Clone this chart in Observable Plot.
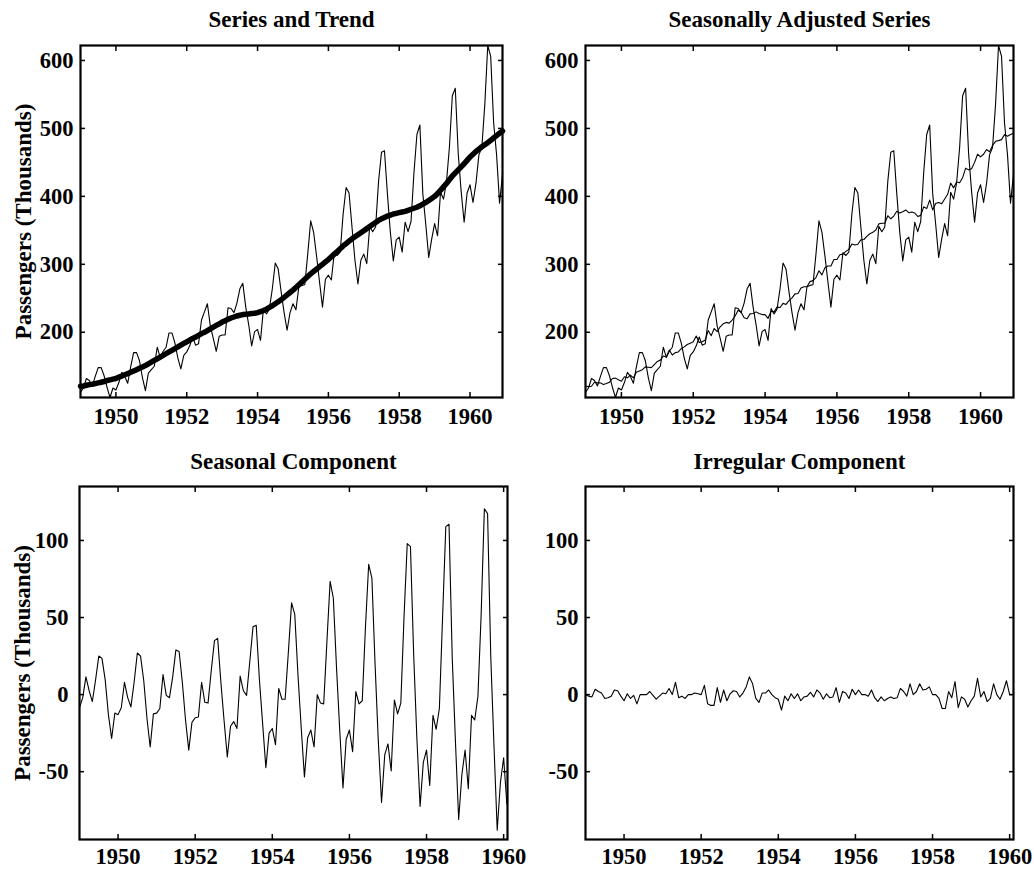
<!DOCTYPE html>
<html><head><meta charset="utf-8">
<script src="https://cdn.jsdelivr.net/npm/d3@7"></script>
<script src="https://cdn.jsdelivr.net/npm/@observablehq/plot@0.6"></script>
<style>
html,body{margin:0;padding:0;background:#fff;}
#wrap{position:relative;width:1034px;height:876px;overflow:hidden;background:#fff;}
.panel{position:absolute;}
.panel svg{overflow:visible;display:block;}
</style></head><body><div id="wrap"></div>
<script>
const startYear = 1949;
const passengers = [
112,118,132,129,121,135,148,148,136,119,104,118,
115,126,141,135,125,149,170,170,158,133,114,140,
145,150,178,163,172,178,199,199,184,162,146,166,
171,180,193,181,183,218,230,242,209,191,172,194,
196,196,236,235,229,243,264,272,237,211,180,201,
204,188,235,227,234,264,302,293,259,229,203,229,
242,233,267,269,270,315,364,347,312,274,237,278,
284,277,317,313,318,374,413,405,355,306,271,306,
315,301,356,348,355,422,465,467,404,347,305,336,
340,318,362,348,363,435,491,505,404,359,310,337,
360,342,406,396,420,472,548,559,463,407,362,405,
417,391,419,461,472,535,622,606,508,461,390,432];
const trend = [
120.5,121,122,123,123.5,124.5,125.5,126.5,127.5,129,130,131,
132,134,135.5,137.5,139,141,143,145,147,149,151,153.5,
156,158.5,161,163.5,166,168.5,171,173.5,176,178.5,181,183.5,
186,188.5,191,193,195.5,198,200,202.5,205,207.5,210,212.5,
215,217,219,221,222.5,224,225,226,226.5,227,227.5,228,
229,230.5,232,234,236.5,239,242,245,248,251.5,255,258.5,
262,266,270,274,278,282,286,289.5,293,296.5,300,303.5,
307,311,315,319,323,327,330.5,334,337.5,340.5,343.5,346.5,
349.5,352.5,355.5,358.5,361.5,364.5,367,369,371,372.5,374,375,
376,377,378,379.5,381,382.5,384,386,388.5,391,394,397,
400,404,409,414,419,424.5,430,434.5,439,443.5,448,453,
458,462,466,469.5,473,476,479,482.5,486,489.5,493,496];
const adjusted = [
120.5,120,120.5,126.5,125.5,125.5,123,124.5,126.5,132,132.5,130,
128,134.5,133,137,133,141,143,145,149,148.5,148,152.5,
157,159,165,163.5,174,166.5,170,171,176,178.5,182,184,
186,194.5,185,186,188.5,202.5,195,205.5,201,208,212.5,214.5,
213.5,218,224,232.5,229.5,221.5,220,227,227.5,230,227.5,226,
226,220.5,231,230,237,236.5,242.5,241,246.5,250.5,256.5,257,
265,267,267,274.5,276,280.5,290.5,284.5,295,297.5,297.5,307,
307,314,315,319,322,330,328.5,329.5,336,336.5,341,345,
347,350.5,359.5,360.5,360.5,371.5,367,371,378,375.5,377.5,380,
376,377,375.5,370.5,372,384.5,382,394.5,380,389.5,391,389,
396,403,419.5,412.5,421,420,427.5,441.5,439,440.5,450,462,
458,462,469,465.5,475,481,482,483.5,491,488.5,491,493];
const seasonal = [
-8.5,-2,11.5,2.5,-4.5,9.5,25,23.5,9.5,-13,-28.5,-12,
-13,-8.5,8,-2,-8,8,27,25,9,-15.5,-34,-12.5,
-12,-9,13,-0.5,-2,11.5,29,28,8,-16.5,-36,-18,
-15,-14.5,8,-5,-5.5,15.5,35,36.5,8,-17,-40.5,-20.5,
-17.5,-22,12,2.5,-0.5,21.5,44,45,9.5,-19,-47.5,-25,
-22,-32.5,4,-3,-3,27.5,59.5,52,12.5,-21.5,-53.5,-28,
-23,-34,0,-5.5,-6,34.5,73.5,62.5,17,-23.5,-60.5,-29,
-23,-37,2,-6,-4,44,84.5,75.5,19,-30.5,-70,-39,
-32,-49.5,-3.5,-12.5,-5.5,50.5,98,96,26,-28.5,-72.5,-44,
-36,-59,-13.5,-22.5,-9,50.5,109,110.5,24,-30.5,-81,-52,
-36,-61,-13.5,-16.5,-1,52,120.5,117.5,24,-33.5,-88,-57,
-41,-71,-50,-4.5,-3,54,140,122.5,17,-27.5,-101,-61];
const irregular = [
0,-1,-1.5,3.5,2,1,-2.5,-2,-1,3,2.5,-1,
-4,0.5,-2.5,-0.5,-6,0,0,0,2,-0.5,-3,-1,
1,0.5,4,0,8,-2,-1,-2.5,0,0,1,0.5,
0,6,-6,-7,-7,4.5,-5,3,-4,0.5,2.5,2,
-1.5,1,5,11.5,7,-2.5,-5,1,1,3,0,-2,
-3,-10,-1,-4,0.5,-2.5,0.5,-4,-1.5,-1,1.5,-1.5,
3,1,-3,0.5,-2,-1.5,4.5,-5,2,1,-2.5,3.5,
0,3,0,0,-1,3,-2,-4.5,-1.5,-4,-2.5,-1.5,
-2.5,-2,4,2,-1,7,0,2,7,3,3.5,5,
0,0,-2.5,-9,-9,2,-2,8.5,-8.5,-1.5,-3,-8,
-4,-1,10.5,-1.5,2,-4.5,-2.5,7,0,-3,2,9,
0,0,3,-4,2,5,3,1,5,-1,-2,-3];

const xTicks = [1950,1952,1954,1956,1958,1960];
const topYTicks = [200,300,400,500,600];
const bottomYTicks = [-50,0,50,100];
const titles = ["Series and Trend","Seasonally Adjusted Series","Seasonal Component","Irregular Component"];
const yLabel = "Passengers (Thousands)";
const topYDomain = [104, 622];
const bottomYDomain = [-94, 135];
const topXDomain = [1949, 1960 + 11/12];
const bottomXDomain = [1949, 1960.1];

const rows = passengers.map((v, i) => ({
  t: startYear + i / 12,
  passengers: v,
  trend: trend[i],
  adjusted: adjusted[i],
  seasonal: seasonal[i],
  irregular: irregular[i]
}));

const font = "'Liberation Serif', 'Times New Roman', Times, serif";
const fmt = d => String(d);
const tickFont = 22.5;
const labelFont = 23;

function panel(cfg) {
  const plot = Plot.plot({
    width: cfg.width, height: cfg.height,
    marginTop: cfg.m[0], marginRight: cfg.m[1], marginBottom: cfg.m[2], marginLeft: cfg.m[3],
    style: {fontFamily: font, fontSize: "22.5px", fontWeight: "bold", background: "none", color: "black", overflow: "visible"},
    x: {domain: cfg.xDomain},
    y: {domain: cfg.yDomain},
    marks: [
      ...cfg.marks,
      Plot.axisX(xTicks, {anchor: "bottom", tickSize: -5, tickPadding: cfg.xPad, tickFormat: fmt, label: null, strokeWidth: 1.5, fontSize: tickFont, fontWeight: "bold"}),
      Plot.axisX(xTicks, {anchor: "top", tickSize: -5, tickFormat: () => "", label: null, strokeWidth: 1.5}),
      Plot.axisY(cfg.yTicks, {anchor: "left", tickSize: -5, tickPadding: cfg.yPad, tickFormat: fmt, label: null, strokeWidth: 1.5, fontSize: tickFont, fontWeight: "bold"}),
      Plot.axisY(cfg.yTicks, {anchor: "right", tickSize: -5, tickFormat: () => "", label: null, strokeWidth: 1.5}),
      Plot.frame({stroke: "black", strokeWidth: 2.2}),
      Plot.text([cfg.title], {text: d => d, frameAnchor: "top", textAnchor: "middle", lineAnchor: "middle", dy: cfg.titleDy, fontSize: labelFont, fontWeight: "bold", fill: "black"}),
      cfg.ylabel ? Plot.text([cfg.ylabel], {text: d => d, frameAnchor: "left", textAnchor: "middle", lineAnchor: "middle", dx: -57, rotate: -90, fontSize: labelFont, fontWeight: "bold", fill: "black"}) : null
    ]
  });
  const div = document.createElement("div");
  div.className = "panel";
  div.style.left = cfg.left + "px";
  div.style.top = cfg.top + "px";
  div.style.zIndex = cfg.z;
  div.appendChild(plot);
  document.getElementById("wrap").appendChild(div);
}

panel({
  left: 0, top: 0, width: 515, height: 440, m: [45, 13, 43, 80], z: 2,
  xDomain: topXDomain, yDomain: topYDomain, yTicks: topYTicks, xPad: 16, yPad: 12, titleDy: -26,
  title: titles[0], ylabel: yLabel,
  marks: [
    Plot.line(rows, {x: "t", y: "passengers", stroke: "black", strokeWidth: 1.1}),
    Plot.line(rows, {x: "t", y: "trend", stroke: "black", strokeWidth: 5.5, strokeLinejoin: "round"})
  ]
});
panel({
  left: 515, top: 0, width: 519, height: 440, m: [45, 21, 43, 70], z: 1,
  xDomain: topXDomain, yDomain: topYDomain, yTicks: topYTicks, xPad: 16, yPad: 12, titleDy: -26,
  title: titles[1], ylabel: null,
  marks: [
    Plot.line(rows, {x: "t", y: "passengers", stroke: "black", strokeWidth: 1.1}),
    Plot.line(rows, {x: "t", y: "adjusted", stroke: "black", strokeWidth: 1.1})
  ]
});
panel({
  left: 0, top: 440, width: 515, height: 436, m: [46, 8, 37, 79], z: 2,
  xDomain: bottomXDomain, yDomain: bottomYDomain, yTicks: bottomYTicks, xPad: 14, yPad: 16, titleDy: -25,
  title: titles[2], ylabel: yLabel,
  marks: [
    Plot.line(rows, {x: "t", y: "seasonal", stroke: "black", strokeWidth: 1.1, clip: true})
  ]
});
panel({
  left: 515, top: 440, width: 519, height: 436, m: [46, 21, 37, 70], z: 1,
  xDomain: bottomXDomain, yDomain: bottomYDomain, yTicks: bottomYTicks, xPad: 14, yPad: 12, titleDy: -25,
  title: titles[3], ylabel: null,
  marks: [
    Plot.line(rows, {x: "t", y: "irregular", stroke: "black", strokeWidth: 1.1, clip: true})
  ]
});
</script></body></html>
